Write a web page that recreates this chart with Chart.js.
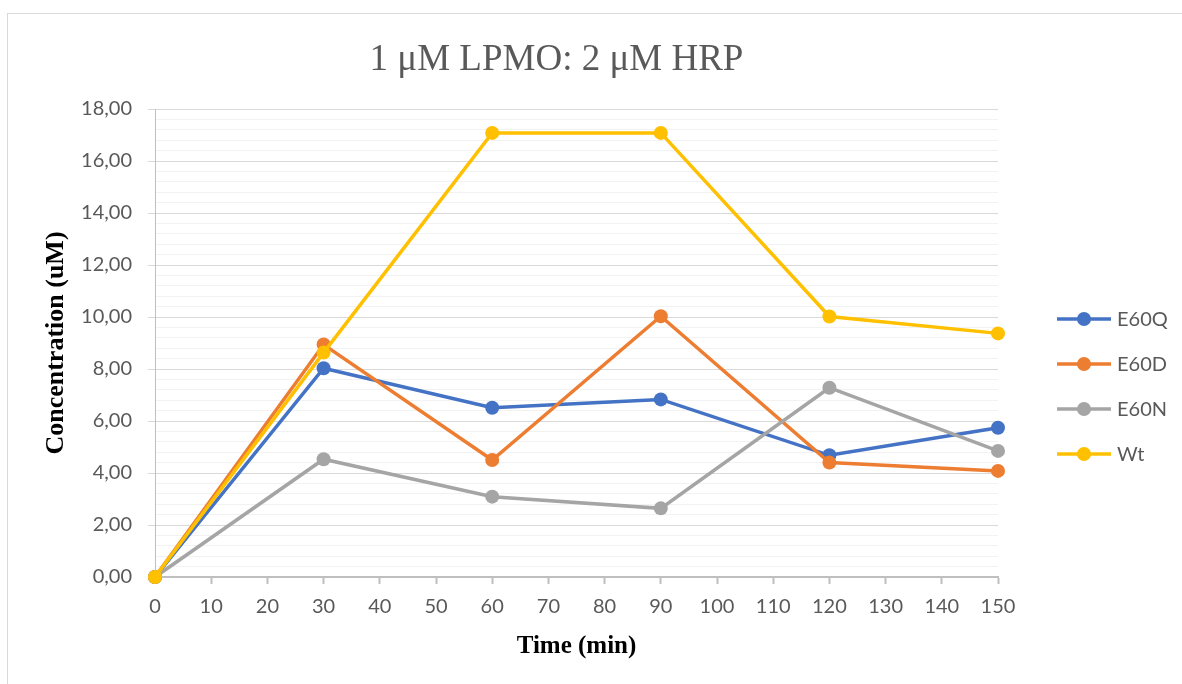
<!DOCTYPE html>
<html>
<head>
<meta charset="utf-8">
<title>1 μM LPMO: 2 μM HRP</title>
<script src="https://cdn.jsdelivr.net/npm/chart.js@4.4.1/dist/chart.umd.min.js"></script>
<style>
  html, body { margin: 0; padding: 0; background: #fff; overflow: hidden; }
  #frame {
    position: absolute; left: 7px; top: 13px;
    width: 1200px; height: 700px;
    border: 1px solid #d9d9d9;
  }
  #wrap { position: absolute; left: 0; top: 0; width: 1182px; height: 684px; }
</style>
</head>
<body>
<div id="frame"></div>
<div id="wrap"><canvas id="chart" width="1182" height="684"></canvas></div>
<script>
const timePoints = [0, 30, 60, 90, 120, 150];
const e60q = [0, 8.03, 6.51, 6.83, 4.68, 5.74];
const e60d = [0, 8.94, 4.5, 10.03, 4.4, 4.08];
const e60n = [0, 4.53, 3.09, 2.64, 7.28, 4.85];
const wt = [0, 8.63, 17.08, 17.08, 10.02, 9.37];

const seriesNames = ["E60Q", "E60D", "E60N", "Wt"];
const seriesColors = ["#4472C4", "#ED7D31", "#A5A5A5", "#FFC000"];
const seriesValues = [e60q, e60d, e60n, wt];

const titleText = "1 μM LPMO: 2 μM HRP";
const xTitle = "Time (min)";
const yTitle = "Concentration (uM)";

const tickFont = { family: "Lato", size: 20 };
const isMajor = (v) => Math.abs(v / 2 - Math.round(v / 2)) < 1e-6;

// title sits a little left of the plot centre, like the original
const titlePlugin = {
  id: "chartTitle",
  afterDraw(chart) {
    const { ctx, chartArea } = chart;
    ctx.save();
    ctx.font = "37px 'Liberation Serif'";
    ctx.fillStyle = "#595959";
    ctx.textAlign = "center";
    ctx.textBaseline = "middle";
    ctx.fillText(titleText, (chartArea.left + chartArea.right) / 2 - 20, 60);
    ctx.restore();
  },
};

// excel style legend: short line with a marker in the middle
const legendPlugin = {
  id: "sideLegend",
  afterDraw(chart) {
    const { ctx, chartArea } = chart;
    const x0 = chartArea.right + 59;
    const y0 = 319;
    ctx.save();
    chart.data.datasets.forEach((ds, i) => {
      const y = y0 + i * 45;
      ctx.strokeStyle = ds.borderColor;
      ctx.lineWidth = 3.5;
      ctx.beginPath();
      ctx.moveTo(x0, y);
      ctx.lineTo(x0 + 54, y);
      ctx.stroke();
      ctx.fillStyle = ds.borderColor;
      ctx.beginPath();
      ctx.arc(x0 + 27, y, 7, 0, Math.PI * 2);
      ctx.fill();
      ctx.fillStyle = "#595959";
      ctx.font = "20px Lato";
      ctx.textAlign = "left";
      ctx.textBaseline = "middle";
      ctx.fillText(ds.label, x0 + 60, y + 1);
    });
    ctx.restore();
  },
};

const datasets = seriesNames.map((name, i) => ({
  label: name,
  data: timePoints.map((t, j) => ({ x: t, y: seriesValues[i][j] })),
  borderColor: seriesColors[i],
  backgroundColor: seriesColors[i],
  borderWidth: 3.5,
  pointRadius: 7,
  pointHoverRadius: 7,
  pointBorderWidth: 0,
  tension: 0,
  clip: false,
  order: seriesNames.length - i,
}));

new Chart(document.getElementById("chart"), {
  type: "line",
  data: { datasets },
  options: {
    responsive: false,
    animation: false,
    layout: { padding: { top: 109, right: 184, bottom: 0, left: 0 } },
    plugins: {
      legend: { display: false },
      title: { display: false },
      tooltip: { enabled: false },
    },
    scales: {
      x: {
        type: "linear",
        min: 0,
        max: 150,
        afterFit: (scale) => { scale.height = 107; },
        ticks: {
          stepSize: 10,
          color: "#595959",
          font: tickFont,
          padding: 11,
          maxRotation: 0,
        },
        grid: {
          drawOnChartArea: false,
          tickLength: 7,
          tickColor: "#bfbfbf",
          tickWidth: 2,
        },
        border: { color: "#bfbfbf", width: 2 },
        title: {
          display: true,
          text: xTitle,
          color: "#000",
          font: { family: "Liberation Serif", size: 25, weight: "bold" },
          padding: { top: 0, bottom: 22 },
        },
      },
      y: {
        min: 0,
        max: 18,
        afterFit: (scale) => { scale.width = 155; },
        ticks: {
          stepSize: 0.4,
          autoSkip: false,
          maxTicksLimit: 100,
          color: "#595959",
          font: tickFont,
          padding: 16,
          callback: (v) => (isMajor(v) ? v.toFixed(2).replace(".", ",") : ""),
        },
        grid: {
          color: (c) => (isMajor(c.tick.value) ? "#d9d9d9" : "#f2f2f2"),
          tickColor: (c) => (isMajor(c.tick.value) ? "#d9d9d9" : "rgba(0,0,0,0)"),
          lineWidth: 1,
          tickLength: 7,
        },
        border: { color: "#bfbfbf", width: 1 },
        title: {
          display: true,
          text: yTitle,
          color: "#000",
          font: { family: "Liberation Serif", size: 26, weight: "bold" },
          padding: { top: 41, bottom: 0 },
        },
      },
    },
  },
  plugins: [titlePlugin, legendPlugin],
});
</script>
</body>
</html>
